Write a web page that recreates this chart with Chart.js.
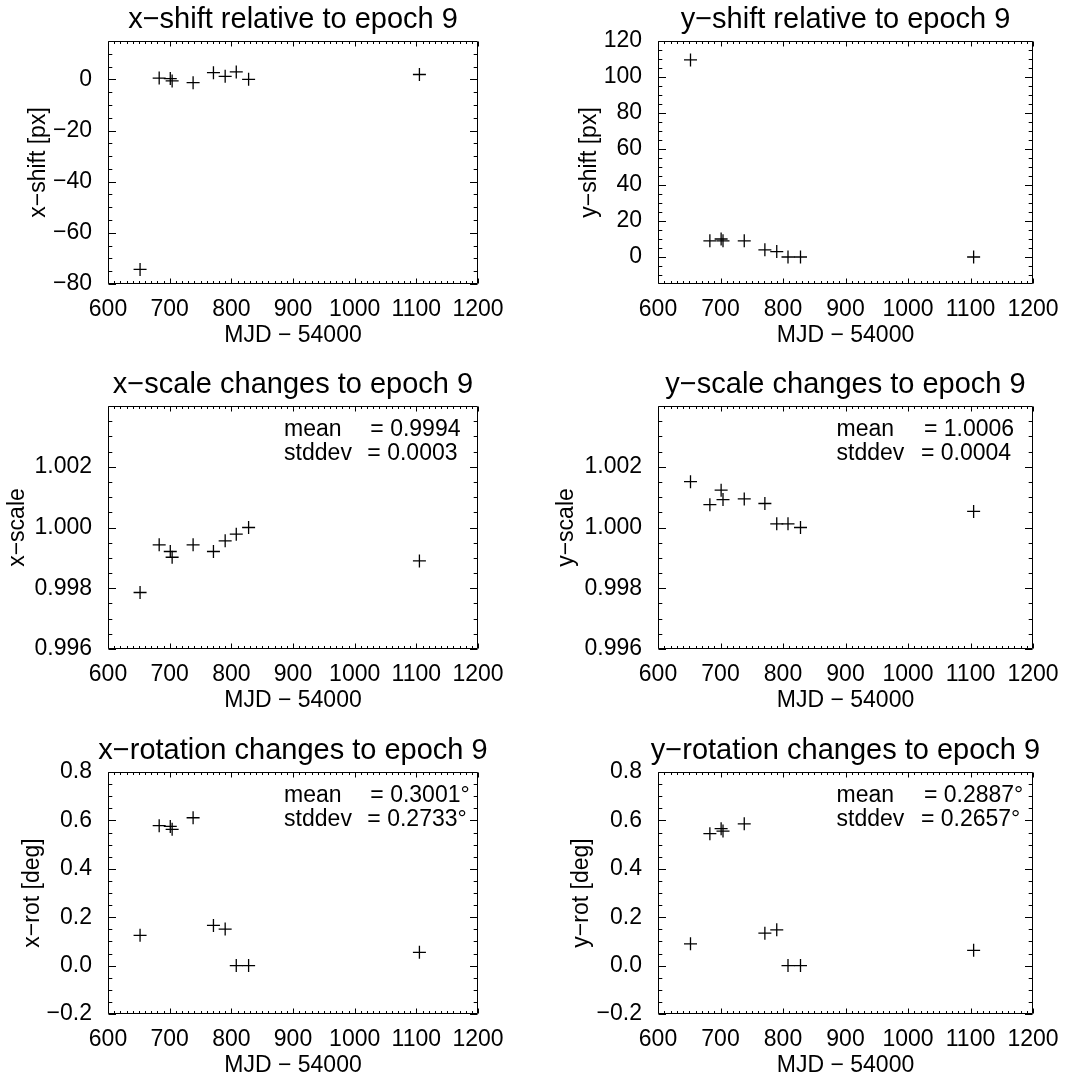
<!DOCTYPE html>
<html>
<head>
<meta charset="utf-8">
<script src="https://cdn.jsdelivr.net/npm/chart.js@4.4.1/dist/chart.umd.min.js"></script>
<style>
  body { margin: 0; background: #fff; width: 1073px; height: 1076px; position: relative; overflow: hidden; }
  .panel { position: absolute; }
</style>
</head>
<body>
<div class="panel" id="p1"><canvas id="c1"></canvas></div>
<div class="panel" id="p2"><canvas id="c2"></canvas></div>
<div class="panel" id="p3"><canvas id="c3"></canvas></div>
<div class="panel" id="p4"><canvas id="c4"></canvas></div>
<div class="panel" id="p5"><canvas id="c5"></canvas></div>
<div class="panel" id="p6"><canvas id="c6"></canvas></div>
<script>
// ── DATA ──
const mjd    = [652, 683, 701, 704, 738, 771, 790, 808, 828, 1105];
const xShift = [-74.3, 0.5, 0.3, -0.6, -1.3, 2.6, 1.2, 2.9, 0.0, 1.9];
const yShift = [109.5, 9.0, 10.0, 9.0, 9.0, 4.0, 3.0, 0.0, 0.0, 0.0];
const xScale = [0.99786, 0.99943, 0.99921, 0.99902, 0.99943, 0.99921, 0.99956, 0.99978, 1.00000, 0.99890];
const yScale = [1.00151, 1.00075, 1.00123, 1.00092, 1.00094, 1.00079, 1.00012, 1.00012, 1.00000, 1.00053];
const xRot   = [0.125, 0.578, 0.575, 0.563, 0.611, 0.166, 0.151, 0.000, 0.000, 0.055];
const yRot   = [0.090, 0.545, 0.566, 0.556, 0.586, 0.134, 0.148, 0.000, 0.000, 0.063];

const mjdTicks   = [600, 700, 800, 900, 1000, 1100, 1200];
const shiftXTicks = [-80, -60, -40, -20, 0];
const shiftYTicks = [0, 20, 40, 60, 80, 100, 120];
const scaleTicks = [0.996, 0.998, 1.000, 1.002];
const rotTicks   = [-0.2, 0.0, 0.2, 0.4, 0.6, 0.8];

const xScaleStats = ['0.9994', '0.0003'];
const yScaleStats = ['1.0006', '0.0004'];
const xRotStats   = ['0.3001°', '0.2733°'];
const yRotStats   = ['0.2887°', '0.2657°'];

// ── LAYOUT ──
const FONT = '"Liberation Sans", Arial, Helvetica, sans-serif';
const YW = 105, XH = 65, PADT = 41, PADR = 35;

// IDL-style box: inward ticks on all sides, title, stats text
const idlFrame = {
  id: 'idlFrame',
  afterDatasetsDraw(chart, args, o) {
    const { ctx, chartArea: a, scales: { x, y } } = chart;
    const L = Math.round(a.left) + 0.5, T = Math.round(a.top) + 0.5;
    const R = Math.round(a.right) - 0.5, B = Math.round(a.bottom) - 0.5;
    ctx.save();
    ctx.strokeStyle = '#000';
    ctx.lineWidth = 1;
    ctx.beginPath();
    ctx.rect(L, T, R - L, B - T);
    const majX = x.ticks.map(t => t.value), majY = y.ticks.map(t => t.value);
    const near = (arr, v, eps) => arr.some(m => Math.abs(m - v) < eps);
    majX.forEach(v => {
      const p = Math.round(x.getPixelForValue(v)) + 0.5;
      ctx.moveTo(p, B); ctx.lineTo(p, B - 5);
      ctx.moveTo(p, T); ctx.lineTo(p, T + 5);
    });
    for (let v = x.min; v <= x.max + 1e-9; v += o.xMinor) {
      if (near(majX, v, o.xMinor / 10)) continue;
      const p = Math.round(x.getPixelForValue(v)) + 0.5;
      ctx.moveTo(p, B); ctx.lineTo(p, B - 2.5);
      ctx.moveTo(p, T); ctx.lineTo(p, T + 2.5);
    }
    majY.forEach(v => {
      const p = Math.round(y.getPixelForValue(v)) + 0.5;
      ctx.moveTo(L, p); ctx.lineTo(L + 7.5, p);
      ctx.moveTo(R, p); ctx.lineTo(R - 7.5, p);
    });
    const n = Math.round((y.max - y.min) / o.yMinor);
    for (let i = 1; i < n; i++) {
      const v = y.min + i * o.yMinor;
      if (near(majY, v, o.yMinor / 10)) continue;
      const p = Math.round(y.getPixelForValue(v)) + 0.5;
      ctx.moveTo(L, p); ctx.lineTo(L + 3.8, p);
      ctx.moveTo(R, p); ctx.lineTo(R - 3.8, p);
    }
    ctx.stroke();

    ctx.fillStyle = '#000';
    ctx.font = '29px ' + FONT;
    ctx.textAlign = 'center';
    ctx.textBaseline = 'alphabetic';
    ctx.fillText(o.title, (a.left + a.right) / 2, a.top - 13.5);

    if (o.stats) {
      ctx.font = '23px ' + FONT;
      ctx.textAlign = 'left';
      ctx.fillText('mean', a.left + 0.476 * a.width, a.top + 29.5);
      ctx.fillText('= ' + o.stats[0], a.left + 0.709 * a.width, a.top + 29.5);
      ctx.fillText('stddev', a.left + 0.476 * a.width, a.top + 53.7);
      ctx.fillText('= ' + o.stats[1], a.left + 0.701 * a.width, a.top + 53.7);
    }
    ctx.restore();
  }
};

const minus = s => s.replace('-', '\u2212');

function makePanel(n, box, cfg) {
  const div = document.getElementById('p' + n);
  const w = YW + (box.R - box.L) + PADR;
  const h = PADT + (box.B - box.T) + XH;
  div.style.left = (box.L - YW) + 'px';
  div.style.top = (box.T - PADT) + 'px';
  const cv = document.getElementById('c' + n);
  cv.width = w; cv.height = h;
  cv.style.width = w + 'px'; cv.style.height = h + 'px';

  new Chart(cv, {
    type: 'scatter',
    data: {
      datasets: [{
        data: mjd.map((m, i) => ({ x: m, y: cfg.values[i] })),
        showLine: false,
        pointStyle: 'cross',
        pointRadius: 6.5,
        pointBorderWidth: 1.3,
        pointBorderColor: '#000',
        pointBackgroundColor: '#000'
      }]
    },
    options: {
      responsive: false,
      animation: false,
      events: [],
      layout: { padding: { top: PADT, right: PADR, left: 0, bottom: 0 } },
      plugins: {
        legend: { display: false },
        tooltip: { enabled: false },
        idlFrame: { title: cfg.title, stats: cfg.stats, xMinor: 10, yMinor: cfg.yMinor }
      },
      scales: {
        x: {
          type: 'linear', min: 600, max: 1200,
          afterBuildTicks: s => { s.ticks = mjdTicks.map(v => ({ value: v })); },
          afterFit: s => { s.height = XH; },
          grid: { display: false },
          border: { display: false },
          ticks: { color: '#000', font: { family: FONT, size: 23 }, padding: 4, maxRotation: 0, autoSkip: false, callback: v => String(v) },
          title: { display: true, text: 'MJD \u2212 54000', color: '#000', font: { family: FONT, size: 23 }, padding: 0 }
        },
        y: {
          type: 'linear', min: cfg.min, max: cfg.max,
          afterBuildTicks: s => { s.ticks = cfg.ticks.map(v => ({ value: v })); },
          afterFit: s => { s.width = YW; },
          grid: { display: false },
          border: { display: false },
          ticks: { color: '#000', font: { family: FONT, size: 23 }, padding: 8, autoSkip: false, callback: v => minus(v.toFixed(cfg.dec)) },
          title: { display: true, text: cfg.ytitle, color: '#000', font: { family: FONT, size: 23 }, padding: { top: YW - 13.8 - cfg.titleOff, bottom: 0 } }
        }
      }
    },
    plugins: [idlFrame]
  });
}

const leftCol = { L: 108, R: 478 }, rightCol = { L: 658, R: 1033 };
const rows = [{ T: 41, B: 284 }, { T: 406, B: 649 }, { T: 772, B: 1014 }];

makePanel(1, { ...leftCol, ...rows[0] }, { title: 'x\u2212shift relative to epoch 9', ytitle: 'x\u2212shift [px]', values: xShift, min: -80, max: 15, ticks: shiftXTicks, yMinor: 5, dec: 0, titleOff: 69 });
makePanel(2, { ...rightCol, ...rows[0] }, { title: 'y\u2212shift relative to epoch 9', ytitle: 'y\u2212shift [px]', values: yShift, min: -15, max: 120, ticks: shiftYTicks, yMinor: 5, dec: 0, titleOff: 68 });
makePanel(3, { ...leftCol, ...rows[1] }, { title: 'x\u2212scale changes to epoch 9', ytitle: 'x\u2212scale', values: xScale, min: 0.996, max: 1.004, ticks: scaleTicks, yMinor: 0.0005, dec: 3, titleOff: 90, stats: xScaleStats });
makePanel(4, { ...rightCol, ...rows[1] }, { title: 'y\u2212scale changes to epoch 9', ytitle: 'y\u2212scale', values: yScale, min: 0.996, max: 1.004, ticks: scaleTicks, yMinor: 0.0005, dec: 3, titleOff: 91, stats: yScaleStats });
makePanel(5, { ...leftCol, ...rows[2] }, { title: 'x\u2212rotation changes to epoch 9', ytitle: 'x\u2212rot [deg]', values: xRot, min: -0.2, max: 0.8, ticks: rotTicks, yMinor: 0.05, dec: 1, titleOff: 75, stats: xRotStats });
makePanel(6, { ...rightCol, ...rows[2] }, { title: 'y\u2212rotation changes to epoch 9', ytitle: 'y\u2212rot [deg]', values: yRot, min: -0.2, max: 0.8, ticks: rotTicks, yMinor: 0.05, dec: 1, titleOff: 76, stats: yRotStats });
</script>
</body>
</html>
